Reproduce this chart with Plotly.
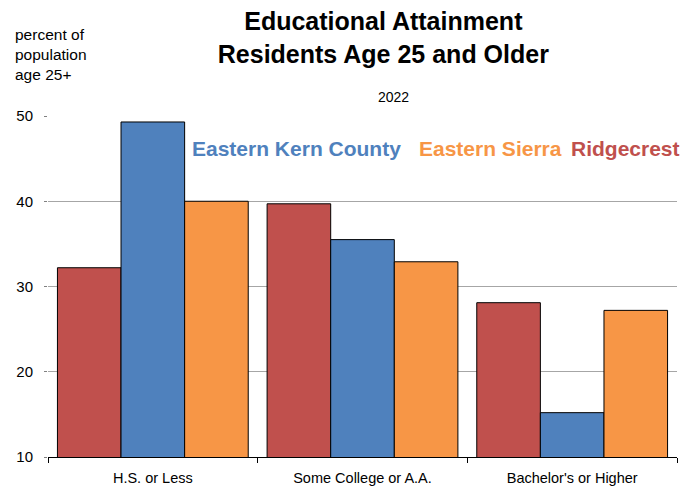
import plotly.graph_objects as go

categories = ["H.S. or Less", "Some College or A.A.", "Bachelor's or Higher"]
ridgecrest = [32.2, 39.7, 28.1]
eastern_kern = [49.3, 35.5, 15.2]
eastern_sierra = [40.0, 32.9, 27.2]
y_ticks = [10, 20, 30, 40, 50]

RED = "#C0504D"
BLUE = "#4F81BD"
ORANGE = "#F79646"
FONT = "Liberation Sans Narrow, Arial Narrow, Liberation Sans, Arial, sans-serif"

fig = go.Figure()
for name, vals, col in [("Ridgecrest", ridgecrest, RED),
                        ("Eastern Kern County", eastern_kern, BLUE),
                        ("Eastern Sierra", eastern_sierra, ORANGE)]:
    fig.add_trace(go.Bar(x=categories, y=vals, name=name, marker_color=col,
                         marker_line=dict(color="black", width=1), base=0))

fig.update_layout(
    width=697, height=493,
    margin=dict(l=48, r=20, t=116, b=36),
    paper_bgcolor="white", plot_bgcolor="white",
    barmode="group", bargap=0.09, bargroupgap=0,
    showlegend=False,
    font=dict(family=FONT, color="black", size=14),
    title=dict(text="<b>Educational Attainment<br>Residents Age 25 and Older</b>",
               x=0.55, xanchor="center", y=0.939, yanchor="top",
               font=dict(size=25, family=FONT)),
)
fig.update_yaxes(range=[10, 50], tickvals=y_ticks, showgrid=True, gridcolor="#A6A6A6",
                 gridwidth=1, ticks="outside", ticklen=3, tickcolor="#808080",
                 showline=False, zeroline=False, tickfont=dict(size=15),
                 ticklabelstandoff=8, automargin=False)
fig.update_xaxes(showline=True, linecolor="black", linewidth=1, ticks="outside",
                 tickson="boundaries", ticklen=5, tickcolor="black",
                 tickfont=dict(size=14.5), ticklabelstandoff=8, automargin=False)

fig.add_annotation(text="percent of<br>population<br>age 25+", xref="paper", yref="paper",
                   x=-0.055, y=1.27, xanchor="left", yanchor="top", align="left",
                   showarrow=False, font=dict(size=15.5))
fig.add_annotation(text="2022", xref="paper", yref="paper", x=0.55, y=1.056,
                   xanchor="center", yanchor="middle", showarrow=False, font=dict(size=14))
for txt, col, xx in [("Eastern Kern County", BLUE, 0.226), ("Eastern Sierra", ORANGE, 0.586),
                     ("Ridgecrest", RED, 0.829)]:
    fig.add_annotation(text="<b>" + txt + "</b>", xref="paper", yref="paper", x=xx, y=0.905,
                       xanchor="left", yanchor="middle", showarrow=False,
                       font=dict(size=21, color=col))

fig.write_html("out.html", config={"displayModeBar": False},
               post_script="document.body.style.margin='0';")
